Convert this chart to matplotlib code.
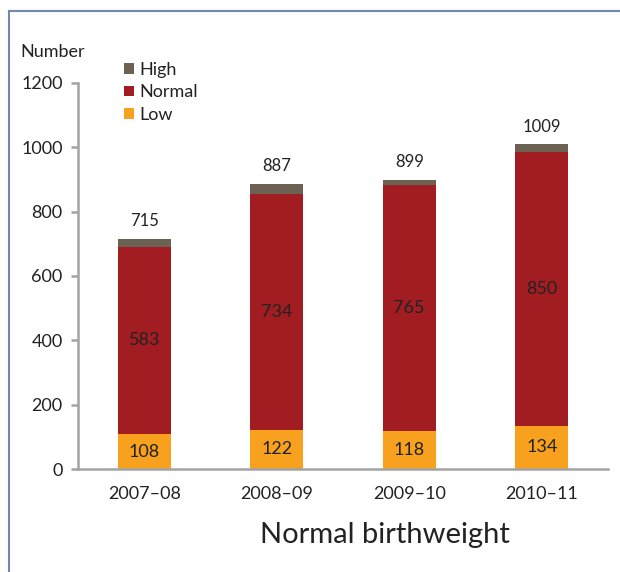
import matplotlib.pyplot as plt
from matplotlib.lines import Line2D

# data
periods = ['2007–08', '2008–09', '2009–10', '2010–11']
low = [108, 122, 118, 134]
normal = [583, 734, 765, 850]
totals = [715, 887, 899, 1009]
high = [t - l - n for t, l, n in zip(totals, low, normal)]

c_low = '#f7a11e'
c_normal = '#a21d22'
c_high = '#6b6253'
grey = '#a3a3a3'
txt = '#222222'

plt.rcParams['font.family'] = ['Lato', 'DejaVu Sans']

fig = plt.figure(figsize=(6.2, 5.72), dpi=100)
ax = fig.add_axes([78/620, 1-469/572, (608-78)/620, (469-83)/572])

x = list(range(len(periods)))
w = 0.4
b_low = ax.bar(x, low, w, color=c_low, label='Low')
b_norm = ax.bar(x, normal, w, bottom=low, color=c_normal, label='Normal')
base = [l + n for l, n in zip(low, normal)]
b_high = ax.bar(x, high, w, bottom=base, color=c_high, label='High')

# labels in segments
for i in x:
    ax.text(i, low[i] / 2, str(low[i]), ha='center', va='center', fontsize=13, color=txt)
    ax.text(i, low[i] + normal[i] / 2, str(normal[i]), ha='center', va='center', fontsize=13, color=txt)
    ax.annotate(str(totals[i]), (i, totals[i]), xytext=(0, 7), textcoords='offset points',
                ha='center', va='bottom', fontsize=12, color=txt)

ax.set_xlim(-0.5, 3.5)
ax.set_ylim(0, 1200)
ax.set_yticks(range(0, 1201, 200))
ax.set_xticks(x)
ax.set_xticklabels(periods)
for s in ['top', 'right']:
    ax.spines[s].set_visible(False)
for s in ['left', 'bottom']:
    ax.spines[s].set_color(grey)
    ax.spines[s].set_linewidth(1.8)
ax.tick_params(axis='y', length=5, width=1.8, color=grey, pad=6, labelsize=13, labelcolor=txt)
ax.tick_params(axis='x', length=0, pad=12, labelsize=13, labelcolor=txt)

fig.text(20/620, 1-52/572, 'Number', ha='left', va='center', fontsize=13, color=txt)
fig.text(385/620, 1-535/572, 'Normal birthweight', ha='center', va='center', fontsize=21, color=txt)

ax.legend(handles=[b_high, b_norm, b_low], loc='upper left',
          bbox_to_anchor=(115/620, 1-53/572), bbox_transform=fig.transFigure,
          frameon=False, fontsize=13, handlelength=0.55, handleheight=0.55,
          handletextpad=0.3, labelspacing=0.35, borderpad=0, labelcolor=txt)

# outer frame
fig.add_artist(Line2D([8.5/620, 8.5/620], [0, 1-11/572], color='#6f89b0', lw=1.5, transform=fig.transFigure))
fig.add_artist(Line2D([8.5/620, 1], [1-11/572, 1-11/572], color='#6f89b0', lw=1.5, transform=fig.transFigure))

fig.savefig('out.png', dpi=100)
